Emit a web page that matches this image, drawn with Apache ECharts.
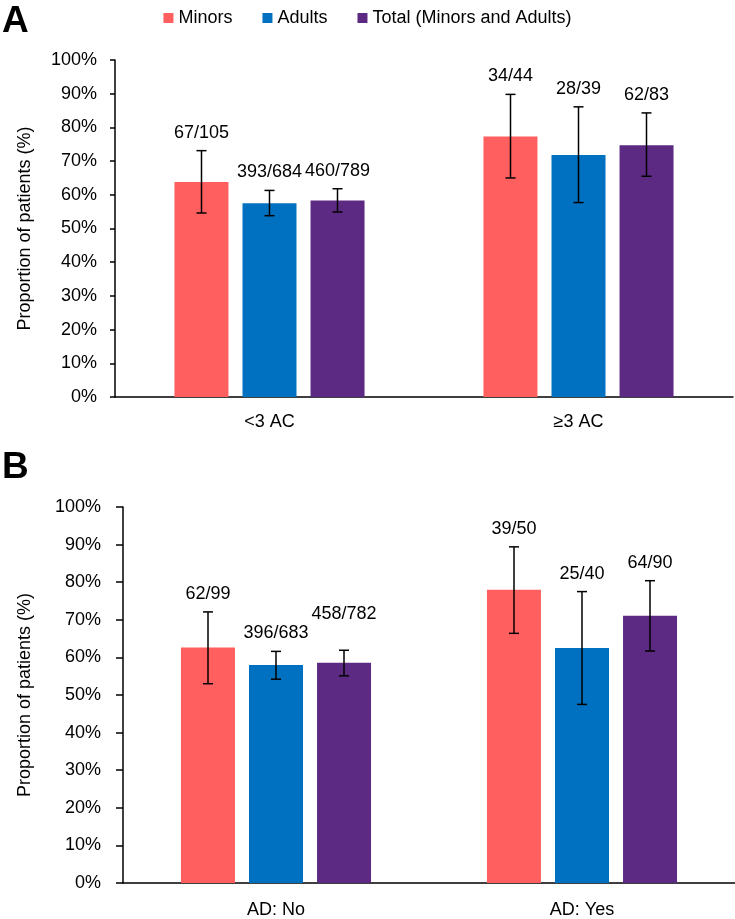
<!DOCTYPE html>
<html>
<head>
<meta charset="utf-8">
<script src="https://cdn.jsdelivr.net/npm/echarts@6/dist/echarts.min.js"></script>
<style>
  html, body { margin: 0; padding: 0; background: #fff; }
  #chart { width: 735px; height: 919px; }
</style>
</head>
<body>
<div id="chart"></div>
<script>
const seriesNames = ['Minors', 'Adults', 'Total (Minors and Adults)'];
const colors = ['#FF5F5F', '#0070C0', '#5C2A83'];

// panel A
const catsA = ['<3 AC', '≥3 AC'];
const minorsA = [63.8, 77.3];
const adultsA = [57.5, 71.8];
const totalA = [58.3, 74.7];
const minorsA_ci = [[54.6, 73.1], [65.0, 89.8]];
const adultsA_ci = [[53.8, 61.3], [57.7, 86.1]];
const totalA_ci = [[54.9, 61.8], [65.5, 84.3]];
const minorsA_n = ['67/105', '34/44'];
const adultsA_n = ['393/684', '28/39'];
const totalA_n = ['460/789', '62/83'];

// panel B
const catsB = ['AD: No', 'AD: Yes'];
const minorsB = [62.6, 78.0];
const adultsB = [58.0, 62.5];
const totalB = [58.6, 71.1];
const minorsB_ci = [[53.0, 72.1], [66.4, 89.4]];
const adultsB_ci = [[54.2, 61.6], [47.5, 77.5]];
const totalB_ci = [[55.1, 61.9], [61.7, 80.4]];
const minorsB_n = ['62/99', '39/50'];
const adultsB_n = ['396/683', '25/40'];
const totalB_n = ['458/782', '64/90'];

const panels = [
  { letter: 'A', cats: catsA, vals: [minorsA, adultsA, totalA], ci: [minorsA_ci, adultsA_ci, totalA_ci], n: [minorsA_n, adultsA_n, totalA_n] },
  { letter: 'B', cats: catsB, vals: [minorsB, adultsB, totalB], ci: [minorsB_ci, adultsB_ci, totalB_ci], n: [minorsB_n, adultsB_n, totalB_n] }
];

const FONT = 'Liberation Sans, Arial, sans-serif';
const BAR_W = 54;
const BAR_STEP = 68;   // bar width + gap
const LABEL_GAP = 18;  // label centre above whisker top
// one label in B was pushed up in the original so it clears its neighbour
const labelLift = { '1-0-2': 18 };

const chart = echarts.init(document.getElementById('chart'), null, { renderer: 'canvas' });

const grids = [
  { left: 115, right: 2, top: 60, height: 337 },
  { left: 123, right: 0, top: 507, height: 379 }
];
const yMargin = [18, 22];
const yTickLen = [5, 7];
const yNameGap = [81, 89];
const xMargin = [16, 18];

const series = [];
panels.forEach((p, pi) => {
  p.vals.forEach((vals, si) => {
    series.push({
      type: 'bar',
      name: seriesNames[si],
      xAxisIndex: pi,
      yAxisIndex: pi,
      data: vals,
      barWidth: BAR_W,
      barGap: '26%',
      itemStyle: { color: colors[si] },
      silent: true
    });
  });
  p.vals.forEach((vals, si) => {
    series.push({
      type: 'custom',
      xAxisIndex: pi,
      yAxisIndex: pi,
      z: 5,
      silent: true,
      encode: { x: 0, y: [1, 2] },
      data: vals.map((v, c) => [c, p.ci[si][c][0], p.ci[si][c][1]]),
      renderItem: function (params, api) {
        const c = api.value(0);
        const x = api.coord([c, 0])[0] + (si - 1) * BAR_STEP;
        const yLo = api.coord([c, api.value(1)])[1];
        const yHi = api.coord([c, api.value(2)])[1];
        const lift = LABEL_GAP + (labelLift[pi + '-' + c + '-' + si] || 0);
        const st = { stroke: '#000', lineWidth: 1.5 };
        return {
          type: 'group',
          children: [
            { type: 'line', shape: { x1: x, y1: yLo, x2: x, y2: yHi }, style: st },
            { type: 'line', shape: { x1: x - 5, y1: yHi, x2: x + 5, y2: yHi }, style: st },
            { type: 'line', shape: { x1: x - 5, y1: yLo, x2: x + 5, y2: yLo }, style: st },
            {
              type: 'text',
              style: {
                text: p.n[si][c], x: x, y: yHi - lift,
                align: 'center', verticalAlign: 'middle',
                fontSize: 18, fontFamily: FONT, fill: '#000'
              }
            }
          ]
        };
      }
    });
  });
});

const option = {
  animation: false,
  backgroundColor: '#fff',
  legend: {
    data: seriesNames,
    top: 4,
    left: 'center',
    icon: 'rect',
    itemWidth: 10,
    itemHeight: 10,
    itemGap: 30,
    textStyle: { fontSize: 18, fontFamily: FONT, color: '#000' }
  },
  graphic: panels.map((p, pi) => ({
    type: 'text',
    left: 2,
    top: pi === 0 ? 3 : 449,
    style: { text: p.letter, fontSize: 37, fontWeight: 'bold', fontFamily: FONT, fill: '#000' }
  })),
  grid: grids,
  xAxis: panels.map((p, pi) => ({
    type: 'category',
    gridIndex: pi,
    data: p.cats,
    axisLine: { lineStyle: { color: '#000', width: 1.5 } },
    axisTick: { show: false },
    axisLabel: { margin: xMargin[pi], fontSize: 18, fontFamily: FONT, color: '#000' }
  })),
  yAxis: panels.map((p, pi) => ({
    type: 'value',
    gridIndex: pi,
    min: 0,
    max: 100,
    interval: 10,
    name: 'Proportion of patients (%)',
    nameLocation: 'middle',
    nameGap: yNameGap[pi],
    nameTextStyle: { fontSize: 18, fontFamily: FONT, color: '#000' },
    axisLine: { show: true, lineStyle: { color: '#000', width: 1.5 } },
    axisTick: { show: true, length: yTickLen[pi], lineStyle: { color: '#000', width: 1.5 } },
    splitLine: { show: false },
    axisLabel: { margin: yMargin[pi], fontSize: 18, fontFamily: FONT, color: '#000', formatter: '{value}%' }
  })),
  series: series
};

chart.setOption(option);
</script>
</body>
</html>
